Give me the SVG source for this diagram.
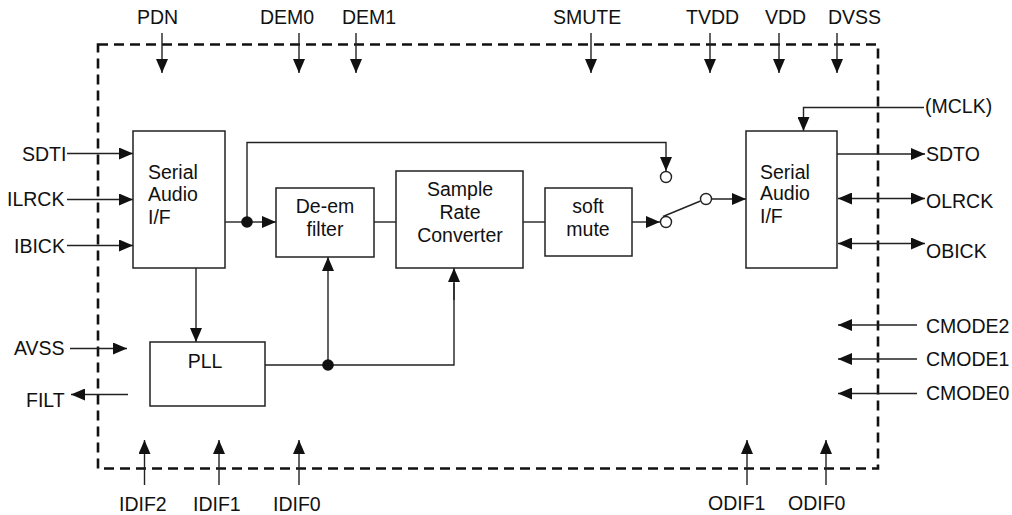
<svg xmlns="http://www.w3.org/2000/svg" width="1012" height="515" viewBox="0 0 1012 515">
<style>
text{font-family:"Liberation Sans",Arial,sans-serif;font-size:19.5px;fill:#111}
.c{text-anchor:middle}
.box{fill:#fff;stroke:#222;stroke-width:1.5}
.ln{fill:none;stroke:#222;stroke-width:1.4}
.ar{fill:none;stroke:#222;stroke-width:1.4;marker-end:url(#ah)}
.bi{fill:none;stroke:#222;stroke-width:1.4;marker-end:url(#ah);marker-start:url(#ah)}
.dot{fill:#111}
.oc{fill:#fff;stroke:#222;stroke-width:1.4}
</style>
<defs>
<marker id="ah" markerUnits="userSpaceOnUse" markerWidth="15" markerHeight="12" refX="14" refY="6" orient="auto-start-reverse" viewBox="0 0 14 12">
<path d="M0,0 L14,6 L0,12 z" fill="#111"/>
</marker>
</defs>
<rect id="chip" x="98" y="44.5" width="780" height="424" fill="none" stroke="#111" stroke-width="2.6" stroke-dasharray="10 6"/>
<g id="connectors">
<!-- top pins -->
<line class="ar" x1="162" y1="33" x2="162" y2="73"/>
<line class="ar" x1="299" y1="33" x2="299" y2="73"/>
<line class="ar" x1="356" y1="33" x2="356" y2="73"/>
<line class="ar" x1="591" y1="33" x2="591" y2="73"/>
<line class="ar" x1="710" y1="33" x2="710" y2="73"/>
<line class="ar" x1="779" y1="33" x2="779" y2="73"/>
<line class="ar" x1="837" y1="33" x2="837" y2="73"/>
<!-- left inputs -->
<line class="ar" x1="67" y1="153.5" x2="133" y2="153.5"/>
<line class="ar" x1="67" y1="199.5" x2="133" y2="199.5"/>
<line class="ar" x1="67" y1="245.5" x2="133" y2="245.5"/>
<line class="ar" x1="70" y1="348.5" x2="127" y2="348.5"/>
<line class="ar" x1="128" y1="394.5" x2="71" y2="394.5"/>
<!-- bottom pins -->
<line class="ar" x1="144.5" y1="485" x2="144.5" y2="440"/>
<line class="ar" x1="219" y1="485" x2="219" y2="440"/>
<line class="ar" x1="299" y1="485" x2="299" y2="440"/>
<line class="ar" x1="747" y1="485" x2="747" y2="440"/>
<line class="ar" x1="826" y1="485" x2="826" y2="440"/>
<!-- CMODE -->
<line class="ar" x1="917" y1="325" x2="838" y2="325"/>
<line class="ar" x1="917" y1="359" x2="838" y2="359"/>
<line class="ar" x1="917" y1="393.5" x2="838" y2="393.5"/>
<!-- right outputs -->
<line class="ar" x1="837" y1="154" x2="925" y2="154"/>
<line class="bi" x1="838" y1="198.5" x2="925" y2="198.5"/>
<line class="bi" x1="838" y1="243.5" x2="925" y2="243.5"/>
<polyline class="ar" points="924,107.5 803.5,107.5 803.5,131"/>
<!-- internal signal path -->
<line class="ln" x1="225" y1="222" x2="247" y2="222"/>
<line class="ar" x1="247" y1="222" x2="276" y2="222"/>
<line class="ln" x1="374" y1="222" x2="396" y2="222"/>
<line class="ln" x1="523" y1="222" x2="545" y2="222"/>
<line class="ar" x1="632" y1="222" x2="660" y2="222"/>
<polyline class="ar" points="247,222 247,142.5 666,142.5 666,171"/>
<line class="ln" x1="663" y1="216.5" x2="700.5" y2="201"/>
<line class="ar" x1="712" y1="199" x2="746" y2="199"/>
<!-- clock path -->
<line class="ar" x1="196" y1="268" x2="196" y2="342"/>
<polyline class="ln" points="265,365 454,365 454,283"/>
<line class="ar" x1="454" y1="300" x2="454" y2="268"/>
<line class="ar" x1="328" y1="365" x2="328" y2="257"/>
<circle class="dot" cx="247" cy="222" r="5.8"/>
<circle class="dot" cx="328" cy="365" r="5.8"/>
<circle class="oc" cx="666" cy="177" r="5.5"/>
<circle class="oc" cx="666" cy="222" r="5.5"/>
<circle class="oc" cx="706" cy="199" r="5.5"/>
</g>
<g id="serial-in">
<rect class="box" x="133" y="131" width="92" height="137"/>
<text x="148" y="179">Serial</text>
<text x="148" y="201">Audio</text>
<text x="148" y="224">I/F</text>
</g>
<g id="deem">
<rect class="box" x="276" y="188" width="98" height="69"/>
<text class="c" x="325" y="213">De-em</text>
<text class="c" x="325" y="236">filter</text>
</g>
<g id="src">
<rect class="box" x="396" y="171" width="127" height="97"/>
<text class="c" x="460" y="196">Sample</text>
<text class="c" x="460" y="219">Rate</text>
<text class="c" x="460" y="242">Converter</text>
</g>
<g id="softmute">
<rect class="box" x="545" y="188" width="87" height="68"/>
<text class="c" x="588" y="213">soft</text>
<text class="c" x="588" y="236">mute</text>
</g>
<g id="serial-out">
<rect class="box" x="746" y="131" width="91" height="137"/>
<text x="760" y="179">Serial</text>
<text x="760" y="200">Audio</text>
<text x="760" y="223">I/F</text>
</g>
<g id="pll">
<rect class="box" x="150" y="342" width="115" height="64"/>
<text class="c" x="205" y="368">PLL</text>
</g>
<g id="pins">
<text x="137" y="24">PDN</text>
<text x="260" y="24">DEM0</text>
<text x="342" y="24">DEM1</text>
<text x="553" y="24">SMUTE</text>
<text x="686" y="24">TVDD</text>
<text x="765" y="24">VDD</text>
<text x="828" y="24">DVSS</text>
<text x="22" y="161">SDTI</text>
<text x="7" y="206">ILRCK</text>
<text x="14" y="253">IBICK</text>
<text x="14" y="355">AVSS</text>
<text x="26" y="407">FILT</text>
<text x="119" y="511">IDIF2</text>
<text x="193" y="511">IDIF1</text>
<text x="273" y="511">IDIF0</text>
<text x="708" y="510">ODIF1</text>
<text x="788" y="510">ODIF0</text>
<text x="925" y="113">(MCLK)</text>
<text x="926" y="161">SDTO</text>
<text x="926" y="208">OLRCK</text>
<text x="926" y="258">OBICK</text>
<text x="926" y="333">CMODE2</text>
<text x="926" y="366">CMODE1</text>
<text x="926" y="400">CMODE0</text>
</g>
</svg>
